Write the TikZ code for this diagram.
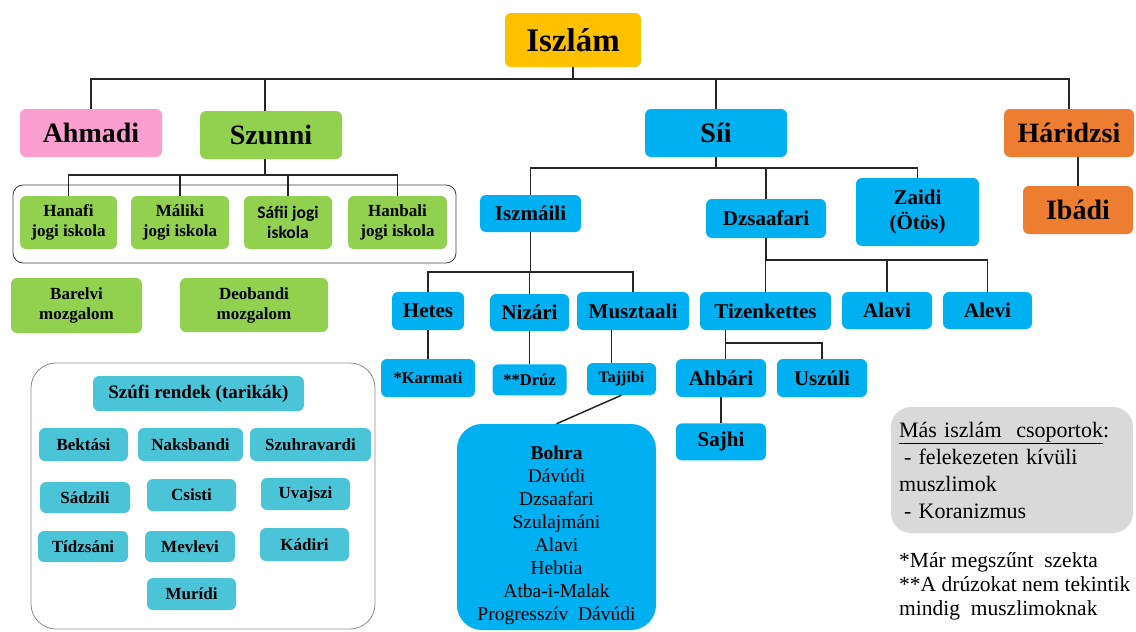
\documentclass[tikz,border=0pt]{standalone}
\usepackage{fontspec}
\setmainfont{Liberation Serif}
\newfontfamily\calibrifont{Carlito}
\usepackage{tikz}
\usetikzlibrary{positioning}

\definecolor{iszlamgold}{HTML}{FFC000}
\definecolor{ahmadipink}{HTML}{FA9FCF}
\definecolor{szunnigreen}{HTML}{92D050}
\definecolor{siiblue}{HTML}{00B0F0}
\definecolor{haridzsiorange}{HTML}{ED7D31}
\definecolor{szufiteal}{HTML}{4BC4D8}
\definecolor{notegray}{HTML}{D9D9D9}

\tikzset{box/.style={draw=none,fill=#1,rounded corners=6pt,inner sep=0pt,align=center,text=black}}
\tikzset{link/.style={line width=1.5pt,draw=black!85}}
\tikzset{titletext/.style={font=\fontsize{33}{38}\selectfont\bfseries}}
\tikzset{headtext/.style={font=\fontsize{28}{32}\selectfont\bfseries}}
\tikzset{midtext/.style={font=\fontsize{21}{25}\selectfont\bfseries}}
\tikzset{smalltext/.style={font=\fontsize{17}{20}\selectfont\bfseries}}
\tikzset{bohratext/.style={font=\fontsize{19.5}{23}\selectfont}}
\tikzset{notetext/.style={font=\fontsize{22}{27}\selectfont}}

\begin{document}
\begin{tikzpicture}[x=1pt,y=-1pt]
        \useasboundingbox (0,0) rectangle (1136,632);

        % top level
        \node[box=iszlamgold,titletext,minimum width=136pt,minimum height=54pt] (iszlam) at (573,40) {Iszlám};
        \node[box=ahmadipink,headtext,minimum width=142pt,minimum height=48pt] (ahmadi) at (91,133) {Ahmadi};
        \node[box=szunnigreen,headtext,minimum width=142pt,minimum height=48pt] (szunni) at (271,135) {Szunni};
        \node[box=siiblue,headtext,minimum width=142pt,minimum height=48pt] (sii) at (716,133) {Síi};
        \node[box=haridzsiorange,headtext,minimum width=130pt,minimum height=48pt] (haridzsi) at (1069,133) {Háridzsi};
        \node[box=haridzsiorange,headtext,minimum width=110pt,minimum height=48pt] (ibadi) at (1078,210) {Ibádi};

        % szunni
        \node[draw=black!75,line width=0.8pt,rounded corners=10pt,minimum width=443pt,minimum height=78pt] (iskolak) at (234.5,224) {};
        \node[box=szunnigreen,smalltext,minimum width=97pt,minimum height=53pt] (hanafi) at (68.5,222.5) {Hanafi\\jogi iskola};
        \node[box=szunnigreen,smalltext,minimum width=98pt,minimum height=53pt] (maliki) at (180,222.5) {Máliki\\jogi iskola};
        \node[box=szunnigreen,smalltext,font=\fontsize{17.5}{20}\calibrifont\bfseries,minimum width=88pt,minimum height=53pt] (safii) at (288,222.5) {Sáfii jogi\\iskola};
        \node[box=szunnigreen,smalltext,minimum width=99pt,minimum height=53pt] (hanbali) at (397.5,222.5) {Hanbali\\jogi iskola};
        \node[box=szunnigreen,smalltext,minimum width=131pt,minimum height=55pt] (barelvi) at (76.5,305.5) {Barelvi\\mozgalom};
        \node[box=szunnigreen,smalltext,minimum width=148pt,minimum height=54pt] (deobandi) at (254,305) {Deobandi\\mozgalom};

        % szufi rendek
        \node[draw=black!45,line width=0.8pt,rounded corners=25pt,minimum width=344pt,minimum height=266pt] (szufi) at (203,496) {};
        \node[box=szufiteal,font=\fontsize{19}{22}\selectfont\bfseries,minimum width=211pt,minimum height=35pt] (szufifej) at (198.5,393.5) {Szúfi rendek (tarikák)};
        \node[box=szufiteal,smalltext,minimum width=89pt,minimum height=33pt] (bektasi) at (83.5,444.5) {Bektási};
        \node[box=szufiteal,smalltext,minimum width=105pt,minimum height=33pt] (naksbandi) at (190.5,444.5) {Naksbandi};
        \node[box=szufiteal,smalltext,minimum width=121pt,minimum height=33pt] (szuhravardi) at (310.5,444.5) {Szuhravardi};
        \node[box=szufiteal,smalltext,minimum width=90pt,minimum height=31pt] (sadzili) at (85,497.5) {Sádzili};
        \node[box=szufiteal,smalltext,minimum width=89pt,minimum height=32pt] (csisti) at (191.5,495) {Csisti};
        \node[box=szufiteal,smalltext,minimum width=89pt,minimum height=32pt] (uvajszi) at (305.5,494) {Uvajszi};
        \node[box=szufiteal,smalltext,minimum width=90pt,minimum height=31pt] (tidzsani) at (83,546.5) {Tídzsáni};
        \node[box=szufiteal,smalltext,minimum width=90pt,minimum height=31pt] (mevlevi) at (190,546.5) {Mevlevi};
        \node[box=szufiteal,smalltext,minimum width=89pt,minimum height=33pt] (kadiri) at (304.5,544.5) {Kádiri};
        \node[box=szufiteal,smalltext,minimum width=89pt,minimum height=32pt] (muridi) at (191.5,594) {Murídi};

        % sii
        \node[box=siiblue,midtext,minimum width=101pt,minimum height=37pt] (iszmaili) at (530.5,213.5) {Iszmáili};
        \node[box=siiblue,midtext,minimum width=120pt,minimum height=39pt] (dzsaafari) at (766,218.5) {Dzsaafari};
        \node[box=siiblue,midtext,minimum width=123pt,minimum height=68pt] (zaidi) at (917.5,212) {Zaidi\\(Ötös)};
        \node[box=siiblue,midtext,minimum width=72pt,minimum height=38pt] (hetes) at (428,311) {Hetes};
        \node[box=siiblue,midtext,minimum width=79pt,minimum height=37pt] (nizari) at (529.5,312.5) {Nizári};
        \node[box=siiblue,midtext,minimum width=112pt,minimum height=38pt] (musztaali) at (633,311) {Musztaali};
        \node[box=siiblue,font=\fontsize{16.5}{20}\selectfont\bfseries,minimum width=94pt,minimum height=38pt] (karmati) at (428,378) {*Karmati};
        \node[box=siiblue,font=\fontsize{16.5}{20}\selectfont\bfseries,minimum width=74pt,minimum height=31pt,below=33pt of nizari] (druz) {**Drúz};
        \node[box=siiblue,font=\fontsize{16}{20}\selectfont\bfseries,minimum width=69pt,minimum height=32pt] (tajjibi) at (621.5,379) {Tajjibi};
        \node[box=siiblue,bohratext,rounded corners=25pt,minimum width=199pt,minimum height=206pt] (bohra) at (556.5,527) {\rule{0pt}{30pt}\textbf{Bohra}\\Dávúdi\\Dzsaafari\\Szulajmáni\\Alavi\\Hebtia\\Atba-i-Malak\\Progresszív\ \ Dávúdi};
        \node[box=siiblue,midtext,minimum width=131pt,minimum height=38pt] (tizenkettes) at (765.5,311) {Tizenkettes};
        \node[box=siiblue,midtext,minimum width=90pt,minimum height=37pt] (alavi) at (887,310.5) {Alavi};
        \node[box=siiblue,midtext,minimum width=89pt,minimum height=37pt] (alevi) at (987.5,310.5) {Alevi};
        \node[box=siiblue,midtext,minimum width=90pt,minimum height=38pt] (ahbari) at (721,378) {Ahbári};
        \node[box=siiblue,midtext,minimum width=90pt,minimum height=38pt] (uszuli) at (822,378) {Uszúli};
        \node[box=siiblue,midtext,minimum width=90pt,minimum height=37pt,below=26pt of ahbari] (sajhi) {Sajhi};

        % notes
        \node[box=notegray,notetext,rounded corners=20pt,align=left,text width=226pt,inner xsep=8pt,minimum height=126pt] (masok) at (1012,470) {\underline{Más iszlám\ \ csoportok}:\\\hspace*{5pt}- felekezeten kívüli\\muszlimok\\\hspace*{5pt}- Koranizmus};
        \node[font=\fontsize{21.5}{24}\selectfont,align=left,anchor=west,inner sep=0pt] (megj) at (899,586) {*Már megszűnt\ \ szekta\\**A drúzokat nem tekintik\\mindig\ \ muszlimoknak};

        % connectors
        \draw[link] (iszlam.south) -- ++(0,12) coordinate (top);
        \draw[link] (ahmadi.north) -- (ahmadi.north |- top) -- (haridzsi.north |- top) -- (haridzsi.north);
        \draw[link] ([xshift=-6pt]szunni.north) -- ([xshift=-6pt]szunni.north |- top);
        \draw[link] (sii.north) -- (sii.north |- top);
        \draw[link] (haridzsi.south -| ibadi.north) -- (ibadi.north);

        \draw[link] ([xshift=-6pt]szunni.south) -- ++(0,16) coordinate (szbar);
        \draw[link] (hanafi.north) -- (hanafi.north |- szbar) -- (hanbali.north |- szbar) -- (hanbali.north);
        \draw[link] (maliki.north) -- (maliki.north |- szbar);
        \draw[link] (safii.north) -- (safii.north |- szbar);

        \draw[link] (sii.south) -- ++(0,11) coordinate (siibar);
        \draw[link] (iszmaili.north) -- (iszmaili.north |- siibar) -- (zaidi.north |- siibar) -- (zaidi.north);
        \draw[link] (dzsaafari.north) -- (dzsaafari.north |- siibar);

        \draw[link] (iszmaili.south) -- ++(0,40) coordinate (iszbar);
        \draw[link] (hetes.north) -- (hetes.north |- iszbar) -- (musztaali.north |- iszbar) -- (musztaali.north);
        \draw[link] (nizari.north) -- (nizari.north |- iszbar);
        \draw[link] (hetes.south) -- (karmati.north);
        \draw[link] (nizari.south) -- (druz.north);
        \draw[link] ([xshift=-10pt]tajjibi.north) -- ([xshift=-10pt]tajjibi.north |- musztaali.south);
        \draw[link] (tajjibi.south) -- (bohra.north);

        \draw[link] (dzsaafari.south) -- ++(0,22) coordinate (dzbar);
        \draw[link] (tizenkettes.north) -- (tizenkettes.north |- dzbar) -- (alevi.north |- dzbar) -- (alevi.north);
        \draw[link] (alavi.north) -- (alavi.north |- dzbar);

        \draw[link] ([xshift=-40pt]tizenkettes.south) -- ++(0,13) coordinate (tzbar);
        \draw[link] (tzbar) -- (tzbar -| uszuli.north) -- (uszuli.north);
        \draw[link] (tzbar) -- (tzbar |- ahbari.north);
        \draw[link] (ahbari.south) -- (sajhi.north);
\end{tikzpicture}
\end{document}
